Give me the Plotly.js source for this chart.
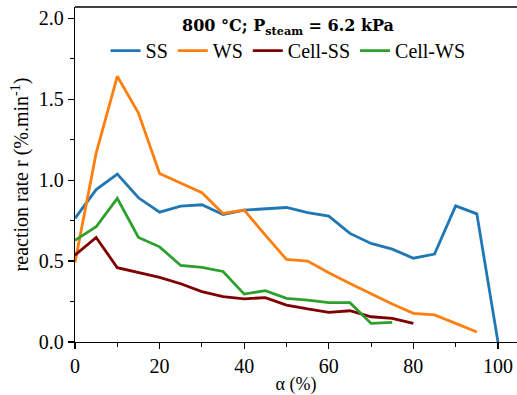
<!DOCTYPE html>
<html><head><meta charset="utf-8">
<script src="https://cdn.plot.ly/plotly-3.0.1.min.js"></script>
<style>html,body{margin:0;padding:0;background:#fff;overflow:hidden}#chart{width:517px;height:395px}</style>
</head><body><div id="chart"></div>
<script>
const alpha = [0,5,10,15,20,25,30,35,40,45,50,55,60,65,70,75,80,85,90,95,100];
const ssAlpha = alpha.slice(0,21);
const ssRate = [0.764,0.942,1.037,0.891,0.802,0.84,0.848,0.788,0.815,0.821,0.831,0.80,0.778,0.671,0.609,0.574,0.518,0.543,0.841,0.792,0.0];
const wsAlpha = alpha.slice(0,20);
const wsRate = [0.492,1.167,1.642,1.415,1.041,0.983,0.922,0.794,0.815,0.66,0.51,0.50,0.428,0.362,0.296,0.235,0.177,0.167,0.115,0.062];
const cellSsAlpha = alpha.slice(0,17);
const cellSsRate = [0.537,0.646,0.459,0.43,0.399,0.36,0.311,0.28,0.267,0.274,0.228,0.204,0.183,0.193,0.156,0.146,0.115];
const cellWsAlpha = alpha.slice(0,16);
const cellWsRate = [0.628,0.712,0.887,0.646,0.588,0.473,0.461,0.436,0.296,0.317,0.27,0.259,0.243,0.243,0.115,0.121];
const names = ['SS','WS','Cell-SS','Cell-WS'];
const colors = ['#1f77b4','#ff7f0e','#7f0000','#2ca02c'];
const xs = [ssAlpha, wsAlpha, cellSsAlpha, cellWsAlpha];
const ys = [ssRate, wsRate, cellSsRate, cellWsRate];

const font = 'Liberation Serif, serif';
const traces = names.map((n,i)=>({
  x: xs[i], y: ys[i], name: n, type:'scatter', mode:'lines',
  line:{color:colors[i], width:2.8}
}));
const layout = {
  width:517, height:395,
  margin:{l:75, r:0, t:7, b:53, pad:0},
  paper_bgcolor:'#fff', plot_bgcolor:'#fff',
  font:{family:font, size:20, color:'#000'},
  showlegend:true,
  legend:{
    orientation:'h', x:0.482, xanchor:'center', y:0.99, yanchor:'top',
    bgcolor:'rgba(0,0,0,0)', font:{family:font, size:20},
    itemwidth:30, tracegroupgap:0,
    title:{text:'<b>800 °C; P<sub>steam</sub> = 6.2 kPa</b>', side:'top center', font:{family:'DejaVu Serif, serif', size:16}}
  },
  shapes:[{type:'line', xref:'paper', yref:'paper', x0:0, x1:1.01, y0:1, y1:1, line:{color:'#000', width:1.3}}],
  xaxis:{
    range:[0,104.5], showgrid:false, zeroline:false,
    showline:true, linecolor:'#000', linewidth:1.3,
    ticks:'outside', ticklen:6, tickwidth:1.2, tickcolor:'#000',
    tick0:0, dtick:20, tickfont:{family:font, size:20},
    minor:{dtick:10, ticks:'outside', ticklen:3.5, tickwidth:1, tickcolor:'#000', showgrid:false},
    title:{text:'α (%)', font:{family:font, size:18}, standoff:2}
  },
  yaxis:{
    range:[0,2.07], showgrid:false, zeroline:false,
    showline:true, linecolor:'#000', linewidth:1.3,
    ticks:'outside', ticklen:6, tickwidth:1.2, tickcolor:'#000',
    tick0:0, dtick:0.5, tickformat:'.1f', tickfont:{family:font, size:20},
    minor:{dtick:0.25, ticks:'outside', ticklen:3.5, tickwidth:1, tickcolor:'#000', showgrid:false},
    title:{text:'reaction rate r (%.min<sup>-1</sup>)', font:{family:font, size:20}, standoff:4}
  }
};
Plotly.newPlot('chart', traces, layout, {staticPlot:true, displayModeBar:false});
</script></body></html>
